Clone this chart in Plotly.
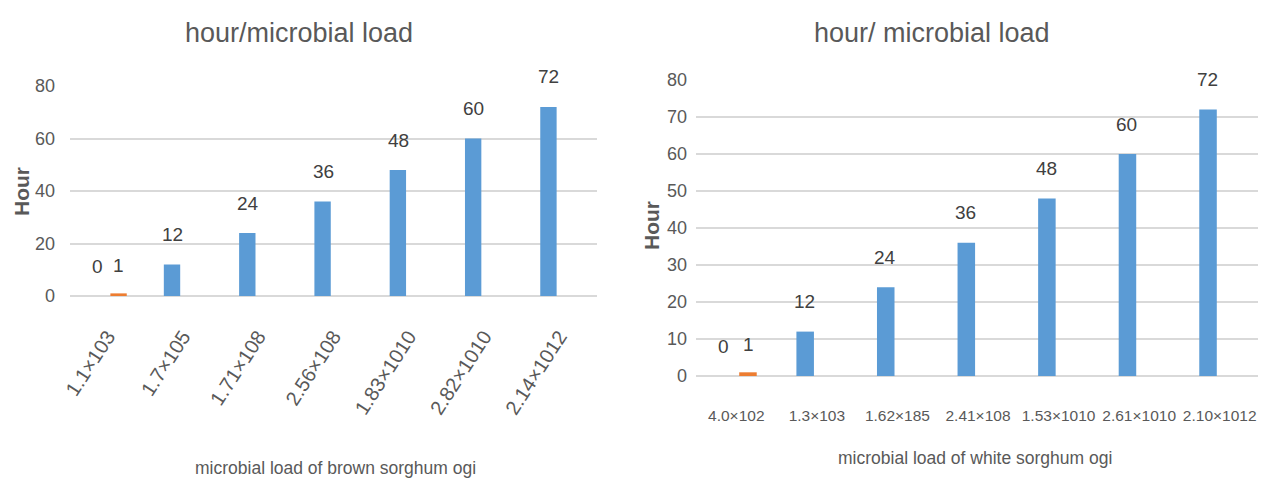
import plotly.graph_objects as go

# ---- data ----
brown_categories = ["1.1×103", "1.7×105", "1.71×108", "2.56×108", "1.83×1010", "2.82×1010", "2.14×1012"]
white_categories = ["4.0×102", "1.3×103", "1.62×185", "2.41×108", "1.53×1010", "2.61×1010", "2.10×1012"]
hours_blue = [0, 12, 24, 36, 48, 60, 72]
hours_orange = [1, None, None, None, None, None, None]

left_title = "hour/microbial load"
right_title = "hour/ microbial load"
left_xtitle = "microbial load of brown sorghum ogi"
right_xtitle = "microbial load of white sorghum ogi"
y_title = "Hour"

BLUE = "#5B9BD5"
ORANGE = "#ED7D31"
GRID = "#D9D9D9"
TXT = "#595959"
LBL = "#404040"
FONT = "Liberation Sans, Arial, sans-serif"

fig = go.Figure()

panels = [
    ("x", "y", brown_categories, 10.5),
    ("x2", "y2", white_categories, 12.5),
]
annotations = []
for xa, ya, cats, off in panels:
    fig.add_trace(go.Bar(x=cats, y=hours_blue, marker_color=BLUE, xaxis=xa, yaxis=ya,
                         showlegend=False, hoverinfo="x+y"))
    fig.add_trace(go.Bar(x=cats, y=hours_orange, marker_color=ORANGE, xaxis=xa, yaxis=ya,
                         showlegend=False, hoverinfo="x+y"))
    for c, v in zip(cats, hours_blue):
        annotations.append(dict(x=c, y=v, xref=xa, yref=ya, text=str(v), showarrow=False,
                                xshift=-off, yshift=30,
                                font=dict(family=FONT, size=19, color=LBL)))
    for c, v in zip(cats, hours_orange):
        if v is not None:
            annotations.append(dict(x=c, y=v, xref=xa, yref=ya, text=str(v), showarrow=False,
                                    xshift=off, yshift=28,
                                    font=dict(family=FONT, size=19, color=LBL)))

# page has an 8px body margin: the figure is drawn from (8, 8)
PAGE_OFF = 8
W, H = 1266 - PAGE_OFF, 488 - PAGE_OFF
def px_x(p):
    return (p - PAGE_OFF) / W
def px_y(p):
    return (H - (p - PAGE_OFF)) / H

annotations += [
    dict(text=left_title, x=px_x(299), y=px_y(33), xref="paper", yref="paper", showarrow=False,
         xanchor="center", yanchor="middle", font=dict(family=FONT, size=27, color=TXT)),
    dict(text=right_title, x=px_x(932), y=px_y(33), xref="paper", yref="paper", showarrow=False,
         xanchor="center", yanchor="middle", font=dict(family=FONT, size=27, color=TXT)),
    dict(text=left_xtitle, x=px_x(335), y=px_y(468), xref="paper", yref="paper", showarrow=False,
         xanchor="center", yanchor="middle", font=dict(family=FONT, size=17.5, color=TXT)),
    dict(text=right_xtitle, x=px_x(975), y=px_y(458), xref="paper", yref="paper", showarrow=False,
         xanchor="center", yanchor="middle", font=dict(family=FONT, size=17.5, color=TXT)),
    dict(text="<b>" + y_title + "</b>", x=px_x(21), y=px_y(191), xref="paper", yref="paper",
         showarrow=False, textangle=-90, xanchor="center", yanchor="middle",
         font=dict(family=FONT, size=21, color=TXT)),
    dict(text="<b>" + y_title + "</b>", x=px_x(651), y=px_y(226), xref="paper", yref="paper",
         showarrow=False, textangle=-90, xanchor="center", yanchor="middle",
         font=dict(family=FONT, size=21, color=TXT)),
]

tickfont = dict(family=FONT, size=18, color=TXT)

fig.update_layout(
    template="none",
    width=W, height=H,
    margin=dict(l=0, r=0, t=0, b=0, pad=0, autoexpand=False),
    paper_bgcolor="white", plot_bgcolor="white",
    barmode="group", bargap=0.42, bargroupgap=0.25,
    annotations=annotations,
    xaxis=dict(domain=[px_x(70), px_x(597)], anchor="y", type="category", automargin=False,
               tickangle=-57, tickfont=dict(family=FONT, size=20, color=TXT),
               showgrid=False, showline=False, zeroline=False, ticks="", ticklabelstandoff=24),
    yaxis=dict(domain=[px_y(296), px_y(86)], anchor="x", range=[0, 80], dtick=20, automargin=False,
               tickfont=tickfont, showgrid=True, gridcolor=GRID, gridwidth=1.5, zeroline=True,
               zerolinecolor=GRID, zerolinewidth=1.5, showline=False, ticks="",
               ticklabelstandoff=14),
    xaxis2=dict(domain=[px_x(696), px_x(1260)], anchor="y2", type="category", automargin=False,
                tickangle=0, tickfont=dict(family=FONT, size=15.5, color=TXT),
                showgrid=False, showline=False, zeroline=False, ticks="", ticklabelstandoff=28),
    yaxis2=dict(domain=[px_y(376), px_y(80)], anchor="x2", range=[0, 80], dtick=10, automargin=False,
                tickfont=tickfont, showgrid=True, gridcolor=GRID, gridwidth=1.5, zeroline=True,
                zerolinecolor=GRID, zerolinewidth=1.5, showline=False, ticks="",
                ticklabelstandoff=8),
)

fig.write_html("out.html")
